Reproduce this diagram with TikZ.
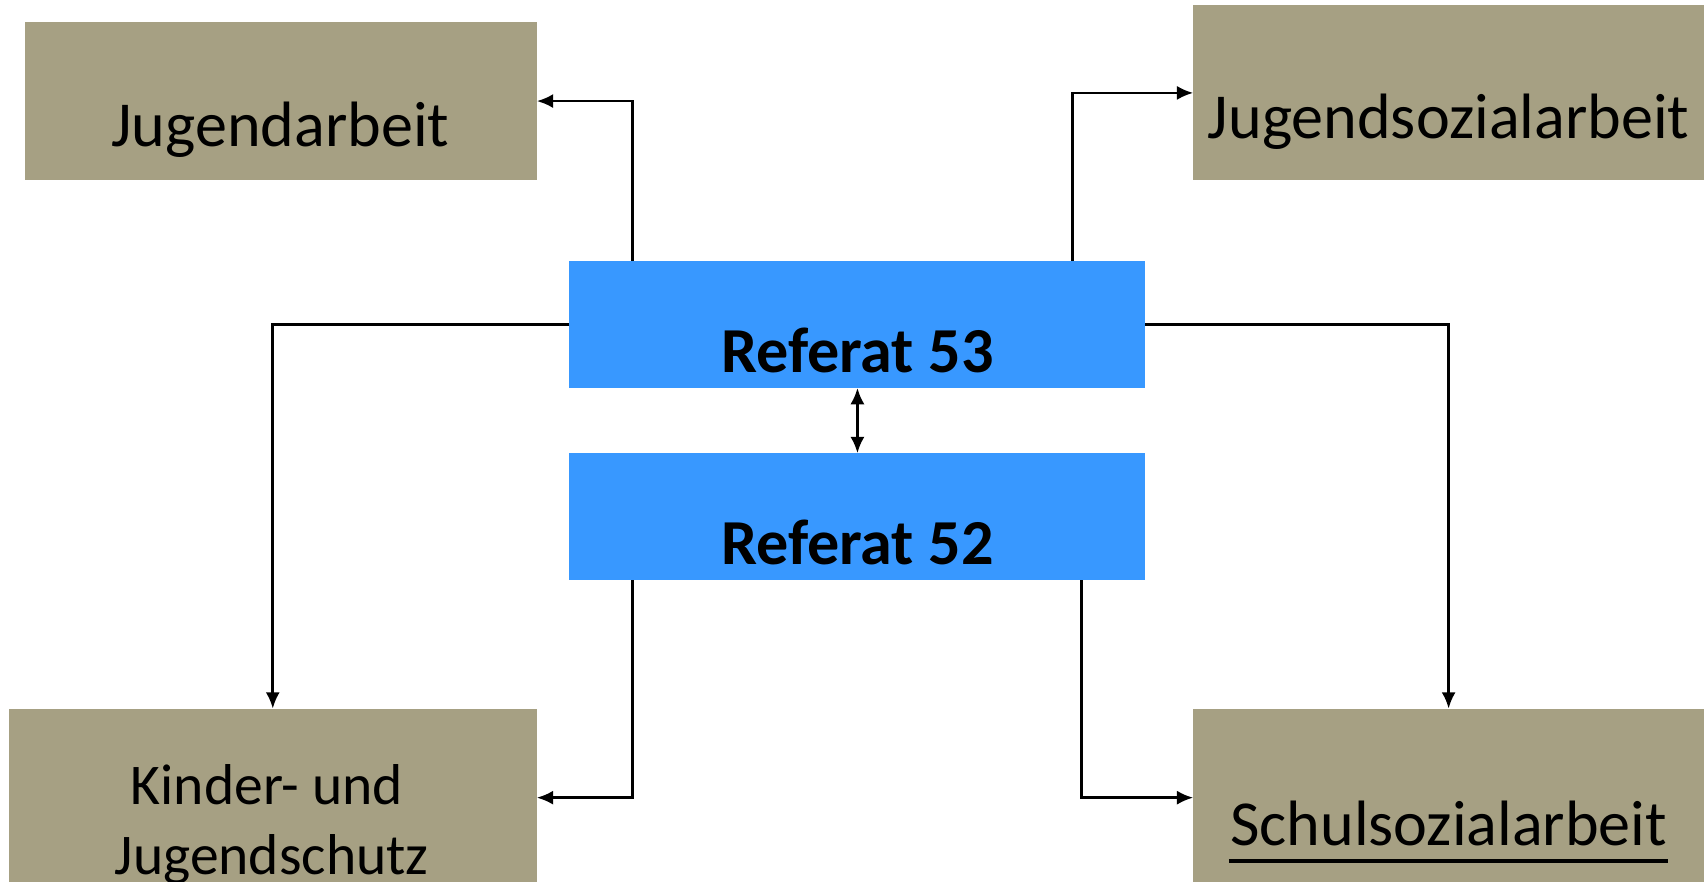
\documentclass[tikz,border=0pt]{standalone}
\usepackage{fontspec}
\setmainfont{Carlito}
\usetikzlibrary{arrows.meta}

\definecolor{feld}{HTML}{A6A083}
\definecolor{referat}{HTML}{3898FF}

\tikzset{
  kasten/.style={rectangle,fill=feld,inner sep=0,outer sep=0},
  refkasten/.style={rectangle,fill=referat,inner sep=0,outer sep=0,
    minimum width=530,minimum height=117},
  schrift/.style={inner sep=0,anchor=base,font=\fontsize{59}{65}\selectfont},
  klein/.style={schrift,font=\fontsize{53}{65}\selectfont},
  pfeil/.style={-{Latex[length=15pt,width=13pt]}}
}

\begin{document}
\begin{tikzpicture}[x=1pt,y=-1pt,line width=2.4pt]
  \useasboundingbox (0,0) rectangle (1568,811);

  \begin{scope}[every node/.style={kasten}]
    \node[minimum width=471,minimum height=146] (ja) at (258.5,93) {};
    \node[minimum width=470,minimum height=161] (jsa) at (1333,85.5) {};
    \node[minimum width=486,minimum height=164] (kj) at (251,734) {};
    \node[minimum width=470,minimum height=164] (ssa) at (1333,734) {};
  \end{scope}
  \node[refkasten] (r53) at (789,298.5) {};
  \node[refkasten] (r52) at (789,475.5) {};

  \node[schrift] (ja-t) at (258,135) {Jugendarbeit};
  \node[schrift] (jsa-t) at (1333,127) {Jugendsozialarbeit};
  \node[schrift,font=\fontsize{59}{65}\selectfont\bfseries] (r53-t) at (789,343) {Referat 53};
  \node[schrift,font=\fontsize{59}{65}\selectfont\bfseries] (r52-t) at (789,519) {Referat 52};
  \node[klein] (kj-t1) at (245.5,740) {Kinder- und};
  \node[klein] (kj-t2) at (250,805) {Jugendschutz};
  \node[schrift] (ssa-t) at (1333,778) {Schulsozialarbeit};
  \draw[line width=4pt] ([yshift=-14pt]ssa-t.base west) -- ([yshift=-14pt]ssa-t.base east);

  \path[pfeil] ([xshift=58pt]r53.north west) edge[to path={|- (\tikztotarget)}] (ja.east);
  \path[pfeil] ([xshift=-67pt]r53.north east) edge[to path={|- (\tikztotarget)}] (jsa.west);
  \path[pfeil] (r53.west) edge[to path={-| (\tikztotarget)}] (kj.north);
  \path[pfeil] (r53.east) edge[to path={-| (\tikztotarget)}] (ssa.north);
  \path[pfeil] ([xshift=58pt]r52.south west) edge[to path={|- (\tikztotarget)}] (kj.east);
  \path[pfeil] ([xshift=-59pt]r52.south east) edge[to path={|- (\tikztotarget)}] (ssa.west);
  \path[{Latex[length=15pt,width=13pt]}-{Latex[length=15pt,width=13pt]}] (r53.south) edge (r52.north);
\end{tikzpicture}
\end{document}
